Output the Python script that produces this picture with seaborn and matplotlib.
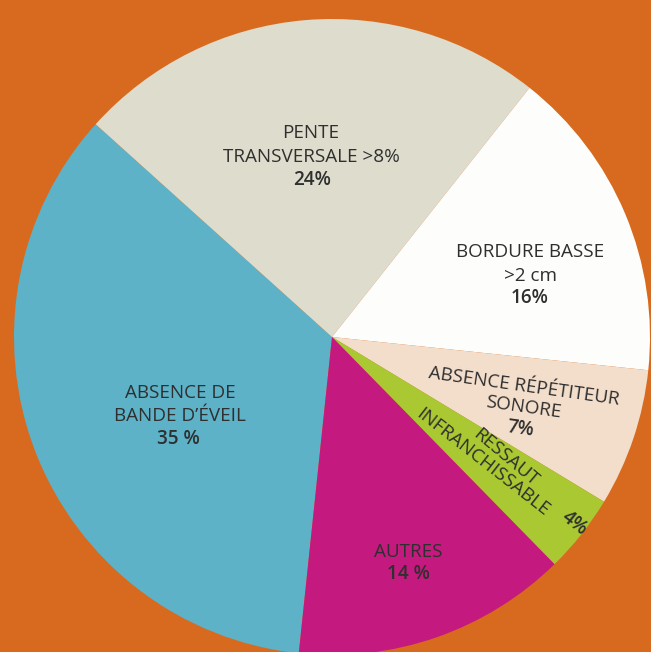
import matplotlib
matplotlib.use("Agg")
import matplotlib.pyplot as plt
import seaborn as sns

# ---- data ----
categories = ["ABSENCE DE BANDE D’ÉVEIL", "PENTE TRANSVERSALE >8%", "BORDURE BASSE >2 cm",
              "ABSENCE RÉPÉTITEUR SONORE", "RESSAUT INFRANCHISSABLE", "AUTRES"]
values = [35, 24, 16, 7, 4, 14]
pct_labels = ["35 %", "24%", "16%", "7%", "4%", "14 %"]
colors = ["#5DB2C8", "#DEDCCC", "#FDFDFB", "#F3DECB", "#A9C832", "#C4197F"]
background = "#D86A20"

# ---- style ----
sns.set_theme(style="white")
plt.rcParams["font.family"] = ["Open Sans", "DejaVu Sans"]

W, H = 651, 652
fig = plt.figure(figsize=(W / 100, H / 100), dpi=100, facecolor=background)
ax = fig.add_axes([0, 0, 1, 1])
ax.set_facecolor(background)

# pie geometry in pixels (center from top-left) and radius
cx, cy, R = 332, 337, 318

ax.pie(values, colors=colors, startangle=264, counterclock=False, radius=1.0,
       center=(0, 0), wedgeprops=dict(linewidth=0), frame=True)
ax.set_xlim(-cx / R, (W - cx) / R)
ax.set_ylim(-(H - cy) / R, cy / R)
ax.set_aspect("auto")
ax.set_axis_off()


def P(px, py):
    return (px - cx) / R, (cy - py) / R


txt_color = "#2f2f2f"
fs = 13.6
# (text, pixel x, pixel y, rotation, bold)
lines = [
    ("ABSENCE DE", 180, 393, 0, False),
    ("BANDE D’ÉVEIL", 180, 416, 0, False),
    (pct_labels[0], 178, 439, 0, True),
    ("PENTE", 311, 133, 0, False),
    ("TRANSVERSALE >8%", 311, 157, 0, False),
    (pct_labels[1], 312, 180, 0, True),
    ("BORDURE BASSE", 530, 252, 0, False),
    (">2 cm", 530, 276, 0, False),
    (pct_labels[2], 530, 298, 0, True),
    ("ABSENCE RÉPÉTITEUR", 524, 386, -8, False),
    ("SONORE", 523, 407, -8, False),
    (pct_labels[3], 520, 429, -8, True),
    ("RESSAUT", 506, 458, -40, False),
    ("INFRANCHISSABLE", 483, 462, -38, False),
    (pct_labels[4], 574, 523, -38, True),
    ("AUTRES", 408, 552, 0, False),
    (pct_labels[5], 408, 574, 0, True),
]
for s, px, py, rot, bold in lines:
    x, y = P(px, py)
    ax.text(x, y, s, ha="center", va="center", rotation=rot, rotation_mode="anchor",
            fontsize=fs, color=txt_color, fontweight="semibold" if bold else "normal")

fig.savefig("out.png", dpi=100, facecolor=background)
